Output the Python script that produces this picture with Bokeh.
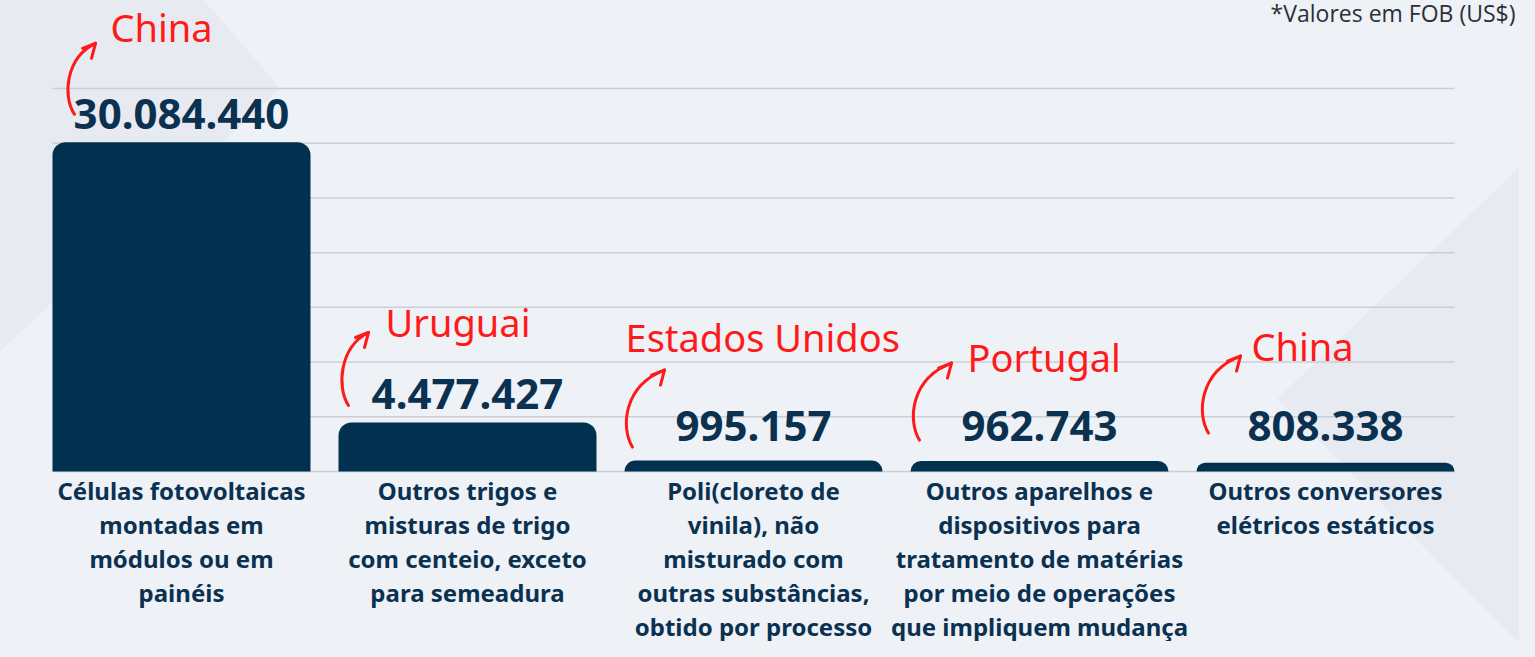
from bokeh.plotting import figure
from bokeh.models import ColumnDataSource, Range1d
from bokeh.core.properties import value
from bokeh.embed import file_html
from bokeh.resources import INLINE

# ---------------- data ----------------
categories = [
    "Células fotovoltaicas\nmontadas em\nmódulos ou em\npainéis",
    "Outros trigos e\nmisturas de trigo\ncom centeio, exceto\npara semeadura",
    "Poli(cloreto de\nvinila), não\nmisturado com\noutras substâncias,\nobtido por processo\nde suspensão",
    "Outros aparelhos e\ndispositivos para\ntratamento de matérias\npor meio de operações\nque impliquem mudança\nde temperatura",
    "Outros conversores\nelétricos estáticos",
]
values = [30084440, 4477427, 995157, 962743, 808338]
countries = ["China", "Uruguai", "Estados Unidos", "Portugal", "China"]
grid_ticks = [0, 5e6, 10e6, 15e6, 20e6, 25e6, 30e6, 35e6]
note = "*Valores em FOB (US$)"

# ---------------- layout / style ----------------
W, H = 1519, 641
PX_X = 286.0               # pixels per category step
PX_Y = 383.0 / 35e6        # pixels per unit value
X0_PX = 181.0              # canvas x of first bar centre
Y0_PX = 471.0              # canvas y of the zero line
BAR_W = 258.0 / PX_X
BASE_FIX = 0.42            # em shift of rendered alphabetic baseline

NAVY = "#02304f"
TEXT_NAVY = "#0b3151"
RED = "#ff1a1a"
BG = "#eef1f6"
BG_DARK = "#e7eaf0"
GRID = "#cbcfd5"

VAL_FS, CTRY_FS, CAT_FS, NOTE_FS = 42, 38, 24, 23

# per-label pixel offsets (relative to bar centre / value-label baseline)
country_dx = [-71, -82, -128, -72, -74]
country_dy = [-88, -74, -91, -71, -82]
arrow_sx = [-107, -119, -121, -120, -117]
arrow_sy = [-17, -6, 3, -4, -11]
arrow_ex = [21, 20, 32, 32, 32]
arrow_ey = [-71, -73, -77, -77, -77]

x_start = -X0_PX / PX_X
x_end = x_start + W / PX_X
y_start = -(H - Y0_PX) / PX_Y
y_end = Y0_PX / PX_Y


def dx(px):
    return px / PX_X


def dy(px):  # screen px downward -> data
    return -px / PX_Y


def page_pt(X, Y):  # canvas pixel -> data (for background decoration)
    return x_start + X / PX_X, y_end - Y / PX_Y


p = figure(width=W, height=H, output_backend="svg", toolbar_location=None,
           x_range=Range1d(x_start, x_end), y_range=Range1d(y_start, y_end),
           min_border=0, outline_line_color=None)
p.axis.visible = False
p.grid.visible = False
p.background_fill_color = BG
p.border_fill_color = BG

# background decorative chevrons
left_shape = [page_pt(*pt) for pt in [(-10, -10), (195, -10), (280, 88), (-10, 360)]]
right_shape = [page_pt(*pt) for pt in [(1545, 142), (1277, 398), (1545, 670)]]
p.patches(xs=[[a for a, _ in left_shape], [a for a, _ in right_shape]],
          ys=[[b for _, b in left_shape], [b for _, b in right_shape]],
          fill_color=BG_DARK, line_color=None)

xs = list(range(len(values)))

# gridlines
gx0, gx1 = xs[0] - BAR_W / 2, xs[-1] + BAR_W / 2
p.segment(x0=[gx0] * len(grid_ticks), x1=[gx1] * len(grid_ticks),
          y0=grid_ticks, y1=grid_ticks, line_color=GRID, line_width=1.5)

# bars
src = ColumnDataSource(dict(x=xs, top=values))
p.vbar(x="x", top="top", bottom=0, width=BAR_W, source=src,
       fill_color=NAVY, line_color=None, border_radius=(13, 13, 0, 0))

# value labels
label_floor = 1.5e6
LAB_GAP = 11
lab_y = [max(v, label_floor) for v in values]
labels = [f"{v:,}".replace(",", ".") for v in values]
p.text(x=xs, y=lab_y, text=labels, y_offset=-LAB_GAP - BASE_FIX * VAL_FS,
       text_align="center", text_baseline="alphabetic",
       text_font=value("Noto Sans"), text_font_style="bold",
       text_font_size=f"{VAL_FS}px", text_color=TEXT_NAVY)

# country labels
cx_ = [x + dx(o) for x, o in zip(xs, country_dx)]
cy_ = [y + dy(o - LAB_GAP - BASE_FIX * CTRY_FS) for y, o in zip(lab_y, country_dy)]
p.text(x=cx_, y=cy_, text=countries, text_align="left",
       text_baseline="alphabetic", text_font=value("Noto Sans"),
       text_font_size=f"{CTRY_FS}px", text_color=RED)

# curved arrows
ax0, ay0, c1x, c1y, c2x, c2y, ax1, ay1 = [], [], [], [], [], [], [], []
hx0, hy0, hx1, hy1 = [], [], [], []
for i, x in enumerate(xs):
    bx = arrow_sx[i]
    by = arrow_sy[i] - LAB_GAP
    ex, ey = arrow_ex[i], arrow_ey[i]
    base_y = lab_y[i]
    ax0.append(x + dx(bx)); ay0.append(base_y + dy(by))
    c1x.append(x + dx(bx - 12)); c1y.append(base_y + dy(by + 0.25 * ey))
    c2x.append(x + dx(bx - 9)); c2y.append(base_y + dy(by + 0.8 * ey))
    tx, ty = x + dx(bx + ex), base_y + dy(by + ey)
    ax1.append(tx); ay1.append(ty)
    for hdx, hdy in [(-13, 5), (-4, 15)]:
        hx0.append(tx); hy0.append(ty)
        hx1.append(x + dx(bx + ex + hdx)); hy1.append(base_y + dy(by + ey + hdy))

p.bezier(x0=ax0, y0=ay0, x1=ax1, y1=ay1, cx0=c1x, cy0=c1y, cx1=c2x, cy1=c2y,
         line_color=RED, line_width=3, line_cap="round")
p.segment(x0=hx0, y0=hy0, x1=hx1, y1=hy1, line_color=RED, line_width=3,
          line_cap="round")

# category labels (one row per line)
lx, ly, lt, loff = [], [], [], []
for i, cat in enumerate(categories):
    for j, line in enumerate(cat.split("\n")):
        lx.append(xs[i]); ly.append(0); lt.append(line)
        loff.append(29 + j * 34 - BASE_FIX * CAT_FS)
p.text(x=lx, y=ly, text=lt, y_offset=loff, text_align="center",
       text_baseline="alphabetic", text_font=value("Noto Sans"),
       text_font_style="bold", text_font_size=f"{CAT_FS}px", text_color=TEXT_NAVY)

# note top right
nx, ny = page_pt(1515, 22)
p.text(x=[nx], y=[ny], text=[note], y_offset=-BASE_FIX * NOTE_FS, text_align="right",
       text_baseline="alphabetic", text_font=value("Open Sans"),
       text_font_size=f"{NOTE_FS}px", text_color="#2a3036")

html = file_html(p, INLINE)
html = html.replace("<head>", f"<head><style>html, body {{ background: {BG}; }}</style>", 1)
open("out.html", "w").write(html)
